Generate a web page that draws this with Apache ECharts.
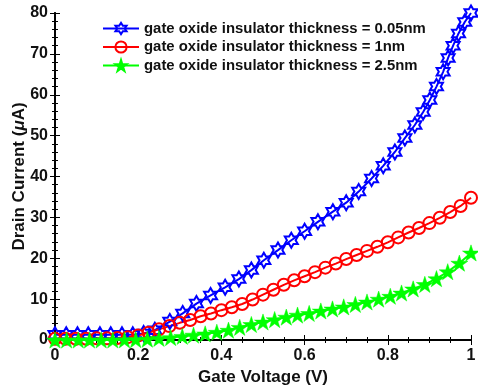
<!DOCTYPE html>
<html>
<head>
<meta charset="utf-8">
<script src="https://cdn.jsdelivr.net/npm/echarts@6/dist/echarts.min.js"></script>
<style>html,body{margin:0;padding:0;background:#fff;}#c{width:478px;height:389px;}</style>
</head>
<body>
<div id="c"></div>
<script>
const seriesNames = ['gate oxide insulator thickness = 0.05nm','gate oxide insulator thickness = 1nm','gate oxide insulator thickness = 2.5nm'];
const xTicks = [0, 0.2, 0.4, 0.6, 0.8, 1];
const blueX = [0, 0.027, 0.054, 0.08, 0.108, 0.134, 0.161, 0.187, 0.213, 0.24, 0.276, 0.307, 0.34, 0.374, 0.409, 0.442, 0.472, 0.502, 0.536, 0.568, 0.6, 0.632, 0.668, 0.7, 0.73, 0.761, 0.789, 0.817, 0.841, 0.865, 0.885, 0.901, 0.917, 0.933, 0.945, 0.957, 0.97, 0.985, 1.0];
const blueY = [1.3, 1.3, 1.3, 1.3, 1.3, 1.3, 1.3, 1.3, 1.6, 2.4, 4.5, 6.5, 8.9, 10.9, 12.9, 14.9, 17.1, 19.5, 22.0, 24.4, 26.6, 28.9, 31.4, 33.6, 36.3, 39.5, 42.6, 46.0, 49.4, 52.6, 55.8, 58.7, 62.0, 65.6, 69.0, 72.0, 75.0, 77.8, 80.0];
const redX = [0, 0.025, 0.05, 0.075, 0.1, 0.125, 0.15, 0.175, 0.2, 0.225, 0.25, 0.275, 0.3, 0.325, 0.35, 0.375, 0.4, 0.425, 0.45, 0.475, 0.5, 0.525, 0.55, 0.575, 0.6, 0.625, 0.65, 0.675, 0.7, 0.725, 0.75, 0.775, 0.8, 0.825, 0.85, 0.875, 0.9, 0.925, 0.95, 0.975, 1.0];
const redY = [0.3, 0.3, 0.3, 0.3, 0.4, 0.4, 0.5, 0.7, 1.1, 1.8, 2.6, 3.4, 4.2, 4.9, 5.8, 6.5, 7.3, 8.0, 8.8, 9.9, 11.1, 12.3, 13.5, 14.6, 15.6, 16.6, 17.7, 18.7, 19.8, 20.8, 21.8, 22.8, 23.9, 25.1, 26.3, 27.4, 28.6, 29.9, 31.3, 32.8, 34.8];
const greenX = [0, 0.028, 0.056, 0.083, 0.111, 0.139, 0.167, 0.194, 0.222, 0.25, 0.278, 0.306, 0.333, 0.361, 0.389, 0.417, 0.444, 0.472, 0.5, 0.528, 0.556, 0.583, 0.611, 0.639, 0.667, 0.694, 0.722, 0.75, 0.778, 0.806, 0.833, 0.861, 0.889, 0.917, 0.944, 0.972, 1.0];
const greenY = [0, 0, 0, 0, 0, 0, 0.05, 0.1, 0.2, 0.4, 0.6, 0.9, 1.2, 1.5, 1.9, 2.4, 3.1, 3.8, 4.4, 5.0, 5.6, 6.1, 6.5, 7.1, 7.6, 8.1, 8.7, 9.3, 10.0, 10.7, 11.5, 12.5, 13.6, 15.0, 16.7, 18.8, 21.3];

function pairs(xs, ys){ return xs.map((x,i)=>[x, ys[i]]); }

const HEX = 'path://M10 0 L12.887 5 L18.66 5 L15.774 10 L18.66 15 L12.887 15 L10 20 L7.113 15 L1.34 15 L4.226 10 L1.34 5 L7.113 5 Z';
const PENT = 'path://M10 0 L12.245 6.91 L19.511 6.91 L13.633 11.18 L15.878 18.09 L10 13.82 L4.122 18.09 L6.367 11.18 L0.489 6.91 L7.755 6.91 Z';
const FONT = '"Liberation Sans", Arial, sans-serif';

const chart = echarts.init(document.getElementById('c'), null, {renderer:'canvas'});
const axisLine = {show:true, lineStyle:{color:'#000', width:1.8}};
const baseX = {type:'value', min:0, max:1, interval:0.2, splitLine:{show:false},
  axisLine: axisLine, axisTick:{show:true, inside:true, length:5, lineStyle:{color:'#000', width:1}},
  minorTick:{show:true, splitNumber:4, length:3, lineStyle:{color:'#000', width:1}}};
const baseY = {type:'value', min:0, max:80, interval:10, splitLine:{show:false},
  axisLine: axisLine, axisTick:{show:true, inside:true, length:5, lineStyle:{color:'#000', width:1}},
  minorTick:{show:true, splitNumber:5, length:3, lineStyle:{color:'#000', width:1}}};

chart.setOption({
  animation:false,
  backgroundColor:'#fff',
  grid:{left:55, right:7, top:13, bottom:49, containLabel:false, outerBoundsMode:'none'},
  legend:{
    left:102, top:21, padding:0, orient:'vertical', itemWidth:36, itemHeight:14, itemGap:3.5,
    textStyle:{fontFamily:FONT, fontWeight:'bold', fontSize:14.9, lineHeight:14, color:'#111'},
    data: seriesNames
  },
  xAxis:[
    Object.assign({}, baseX, {position:'bottom',
      axisLabel:{show:true, margin:8, fontFamily:FONT, fontWeight:'bold', fontSize:16, color:'#111'},
      name:'Gate Voltage (V)', nameLocation:'middle', nameGap:29, nameMoveOverlap:false,
      nameTextStyle:{fontFamily:FONT, fontWeight:'bold', fontSize:17, color:'#111'}}),
    Object.assign({}, baseX, {position:'top', axisLabel:{show:false}})
  ],
  yAxis:[
    Object.assign({}, baseY, {position:'left',
      axisLabel:{show:true, margin:7, fontFamily:FONT, fontWeight:'bold', fontSize:16, color:'#111'},
      name:'Drain Current ({i|μ}A)', nameLocation:'middle', nameGap:27, nameMoveOverlap:false,
      nameTextStyle:{fontFamily:FONT, fontWeight:'bold', fontSize:17, color:'#111',
        rich:{i:{fontFamily:FONT, fontStyle:'italic', fontWeight:'bold', fontSize:17, color:'#111'}}}}),
    Object.assign({}, baseY, {position:'right', axisLabel:{show:false}})
  ],
  series:[
    {name:seriesNames[0], type:'line', data:pairs(blueX, blueY), clip:false,
      symbol:HEX, symbolSize:15, symbolKeepAspect:true, showAllSymbol:true,
      lineStyle:{color:'#0000ff', width:2},
      itemStyle:{color:'rgba(255,255,255,0)', borderColor:'#0000ff', borderWidth:2}},
    {name:seriesNames[1], type:'line', data:pairs(redX, redY), clip:false,
      symbol:'circle', symbolSize:12, showAllSymbol:true,
      lineStyle:{color:'#ff0000', width:2},
      itemStyle:{color:'rgba(255,255,255,0)', borderColor:'#ff0000', borderWidth:2}},
    {name:seriesNames[2], type:'line', data:pairs(greenX, greenY), clip:false,
      symbol:PENT, symbolSize:17, symbolKeepAspect:true, showAllSymbol:true,
      lineStyle:{color:'#00ff00', width:2},
      itemStyle:{color:'#00ff00', borderColor:'#00ff00', borderWidth:0.5}}
  ]
});
</script>
</body>
</html>
